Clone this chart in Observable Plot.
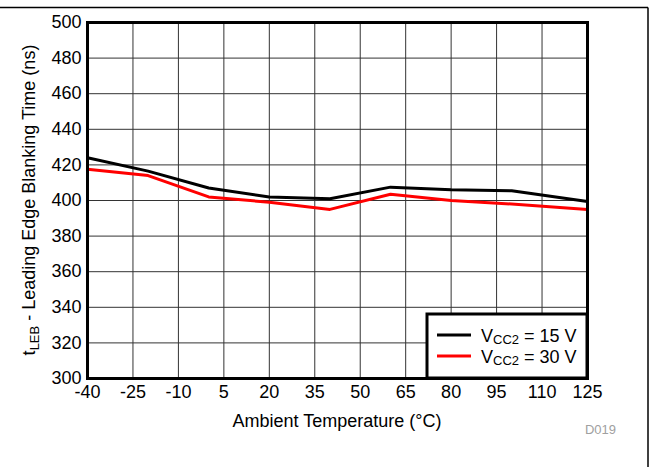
<!DOCTYPE html>
<html>
<head>
<meta charset="utf-8">
<script src="https://cdn.jsdelivr.net/npm/d3@7"></script>
<script src="https://cdn.jsdelivr.net/npm/@observablehq/plot@0.6"></script>
<style>
  html, body { margin: 0; padding: 0; background: #fff; }
  svg { display: block; }
</style>
</head>
<body>
<div id="chart"></div>
<script>
// Data
const temps = [-40, -20, 0, 20, 40, 60, 80, 100, 125];
const vcc15 = [424, 416.5, 407, 402, 401, 407.5, 406, 405.5, 399.5];
const vcc30 = [417.5, 414, 402, 399, 395, 403.5, 400, 398, 395];
const seriesNames = ["15", "30"];
const seriesColors = ["#000000", "#ff0000"];
const xTicks = [-40, -25, -10, 5, 20, 35, 50, 65, 80, 95, 110, 125];
const yTicks = [300, 320, 340, 360, 380, 400, 420, 440, 460, 480, 500];

const rows = [];
temps.forEach((t, i) => {
  rows.push({ t, v: vcc15[i], s: seriesNames[0] });
  rows.push({ t, v: vcc30[i], s: seriesNames[1] });
});

const font = "'Liberation Sans', Arial, Helvetica, sans-serif";

const chart = Plot.plot({
  width: 652,
  height: 467,
  marginLeft: 87,
  marginRight: 65,
  marginTop: 22,
  marginBottom: 89,
  style: { fontFamily: font, fontSize: "18px", color: "#000", background: "#fff" },
  x: { domain: [-40, 125], label: null },
  y: { domain: [300, 500], label: null },
  color: { domain: seriesNames, range: seriesColors },
  marks: [
    Plot.gridX(xTicks, { stroke: "#333", strokeOpacity: 1, strokeWidth: 1 }),
    Plot.gridY(yTicks, { stroke: "#333", strokeOpacity: 1, strokeWidth: 1 }),
    Plot.line(rows, { x: "t", y: "v", z: "s", stroke: "s", strokeWidth: 3 }),
    Plot.frame({ stroke: "#000", strokeWidth: 3 }),
    Plot.axisX(xTicks, { tickSize: 0, tickPadding: 7, fontSize: 18, label: null, tickFormat: d => String(d) }),
    Plot.axisY(yTicks, { tickSize: 0, tickPadding: 6, fontSize: 18, label: null, tickFormat: d => String(d) })
  ]
});

document.getElementById("chart").appendChild(chart);

const svg = d3.select(chart);
const sx = chart.scale("x");
const sy = chart.scale("y");
const x0 = sx.apply(-40), x1 = sx.apply(125);
const y0 = sy.apply(300), y1 = sy.apply(500);

// Outer page border (top and right)
svg.append("line").attr("x1", 0).attr("x2", 648).attr("y1", 7.5).attr("y2", 7.5)
  .attr("stroke", "#000").attr("stroke-width", 1.5);
svg.append("line").attr("x1", 648).attr("x2", 648).attr("y1", 7.5).attr("y2", 467)
  .attr("stroke", "#000").attr("stroke-width", 1.5);

// X-axis title
svg.append("text")
  .attr("x", (x0 + x1) / 2).attr("y", y0 + 49)
  .attr("text-anchor", "middle")
  .attr("font-family", font).attr("font-size", 18)
  .text("Ambient Temperature (°C)");

// Y-axis title with subscript
const yl = svg.append("text")
  .attr("transform", `translate(35,${(y0 + y1) / 2}) rotate(-90)`)
  .attr("text-anchor", "middle")
  .attr("font-family", font).attr("font-size", 18);
yl.append("tspan").text("t");
yl.append("tspan").attr("font-size", 13).attr("dy", 4).text("LEB");
yl.append("tspan").attr("dy", -4).text(" - Leading Edge Blanking Time (ns)");

// D019 tag
svg.append("text")
  .attr("x", 616).attr("y", 434)
  .attr("text-anchor", "end")
  .attr("font-family", font).attr("font-size", 13)
  .attr("fill", "#a0a0a0")
  .text("D019");

// Legend box
const lgW = 160, lgH = 64;
const lx = x1 - lgW, ly = y0 - lgH;
svg.append("rect").attr("x", lx).attr("y", ly).attr("width", lgW).attr("height", lgH)
  .attr("fill", "#fff").attr("stroke", "#000").attr("stroke-width", 3);
const legendLabels = ["15 V", "30 V"];
legendLabels.forEach((lab, i) => {
  const yy = ly + 21 + i * 21;
  svg.append("line").attr("x1", lx + 10).attr("x2", lx + 44).attr("y1", yy).attr("y2", yy)
    .attr("stroke", seriesColors[i]).attr("stroke-width", 3);
  const t = svg.append("text").attr("x", lx + 54).attr("y", yy + 6.5)
    .attr("text-anchor", "start")
    .attr("font-family", font).attr("font-size", 18);
  t.append("tspan").text("V");
  t.append("tspan").attr("font-size", 13).attr("dy", 2).text("CC2");
  t.append("tspan").attr("dy", -2).text(" = " + lab);
});
</script>
</body>
</html>
